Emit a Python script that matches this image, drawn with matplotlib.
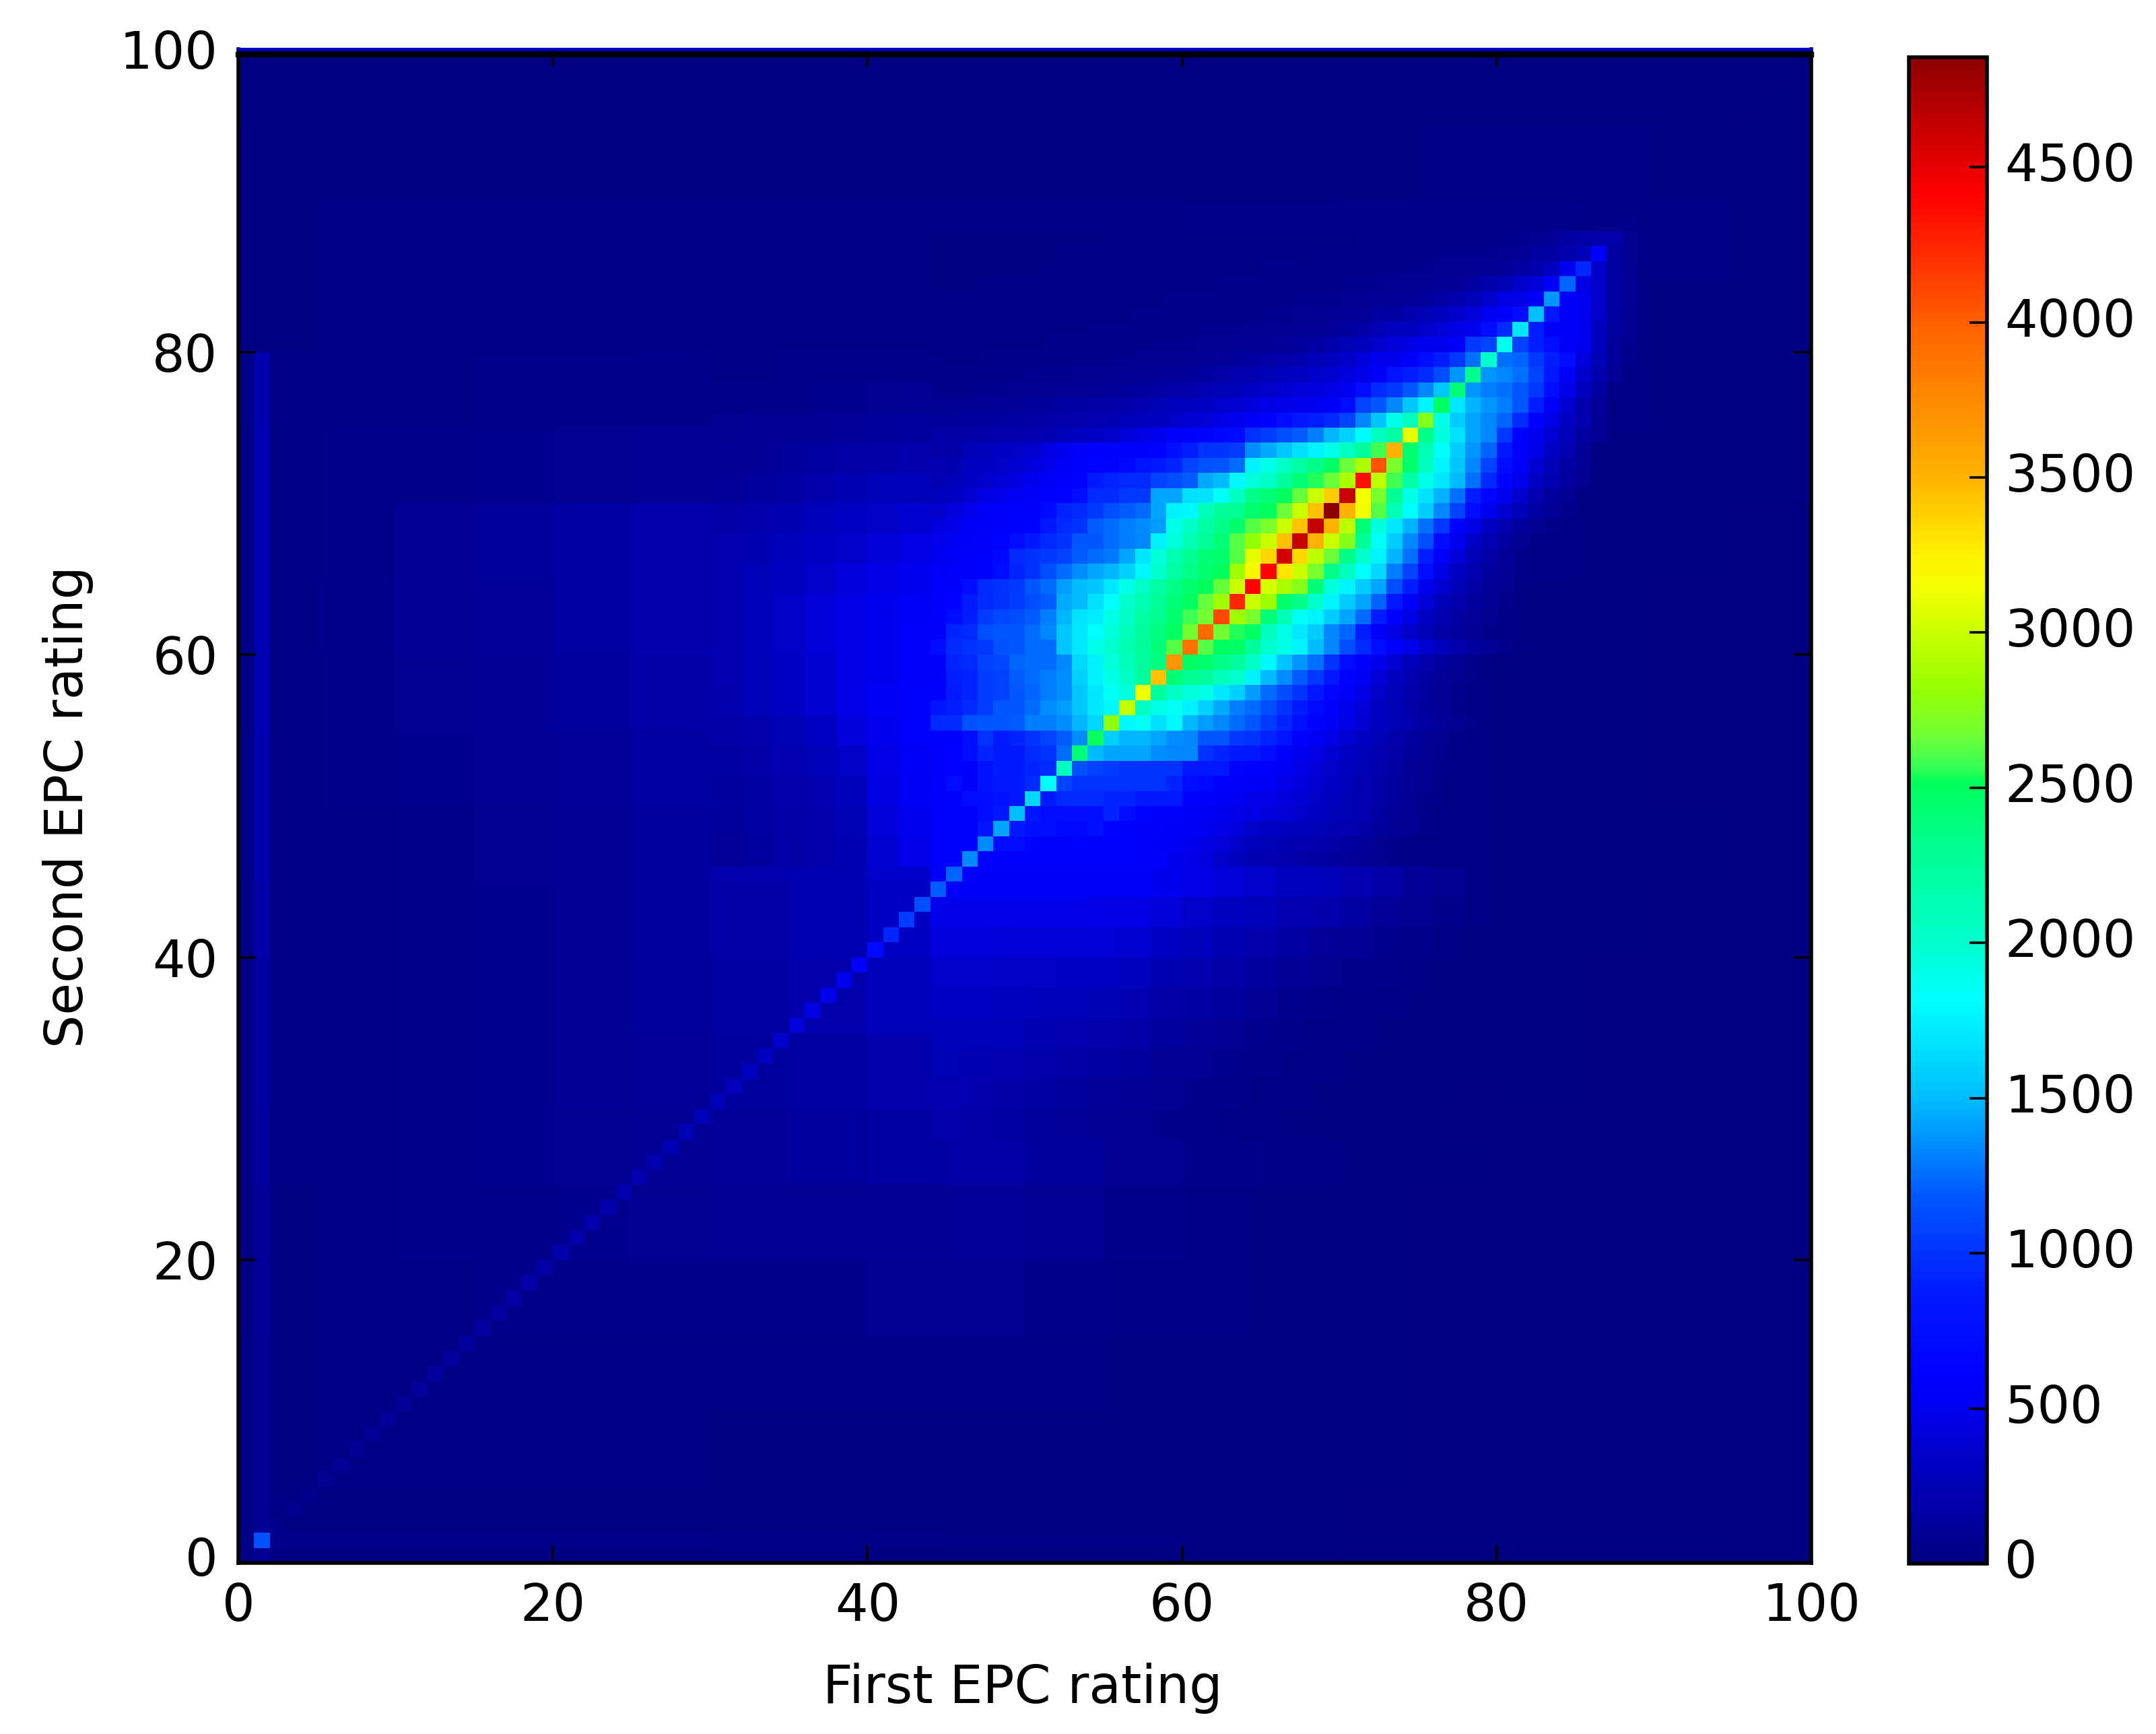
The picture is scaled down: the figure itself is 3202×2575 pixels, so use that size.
#!/usr/bin/env python3
"""EPC rating pairs: 2D histogram of first rating against second rating."""
import matplotlib
import matplotlib.pyplot as plt
import numpy as np
from matplotlib.colors import LinearSegmentedColormap
from matplotlib.transforms import ScaledTranslation

matplotlib.use("Agg")

# everything below is read off the picture, in tens of counts unless noted
# coarse background, 5 x 5 rating blocks, rows go from y=0 upwards
BG_Y00 = [2, 2, 2, 2, 2, 2, 2, 2, 1, 1, 1, 1, 1, 1, 0, 0, 0, 0, 0, 0]
BG_Y05 = [2, 3, 3, 3, 3, 3, 2, 2, 2, 2, 2, 2, 1, 1, 1, 0, 0, 0, 0, 0]
BG_Y10 = [2, 3, 3, 4, 4, 4, 4, 4, 3, 3, 3, 2, 2, 1, 1, 0, 0, 0, 0, 0]
BG_Y15 = [2, 3, 4, 5, 6, 6, 6, 6, 8, 8, 6, 4, 3, 2, 1, 0, 0, 0, 0, 0]
BG_Y20 = [2, 4, 5, 6, 7, 8, 9, 9, 10, 12, 9, 6, 4, 2, 1, 0, 0, 0, 0, 0]
BG_Y25 = [3, 4, 5, 7, 8, 10, 12, 14, 16, 17, 13, 8, 5, 3, 2, 1, 0, 0, 0, 0]
BG_Y30 = [3, 4, 5, 7, 10, 12, 14, 16, 20, 20, 14, 8, 5, 3, 2, 1, 1, 0, 0, 0]
BG_Y35 = [3, 4, 5, 7, 10, 13, 16, 20, 28, 30, 24, 14, 6, 4, 2, 1, 1, 0, 0, 0]
BG_Y40 = [3, 4, 5, 7, 10, 14, 18, 24, 32, 45, 40, 30, 18, 10, 6, 3, 1, 1, 0, 0]
BG_Y45 = [3, 4, 5, 8, 10, 14, 20, 24, 35, 55, 55, 55, 45, 32, 22, 3, 2, 1, 1, 0]
BG_Y50 = [3, 5, 7, 9, 12, 15, 18, 25, 35, 60, 60, 50, 30, 15, 8, 3, 1, 1, 0, 0]
BG_Y55 = [3, 5, 8, 11, 14, 18, 24, 35, 55, 80, 80, 50, 30, 15, 6, 3, 1, 1, 0, 0]
BG_Y60 = [3, 6, 10, 12, 15, 20, 28, 40, 55, 80, 80, 60, 30, 15, 6, 3, 2, 1, 0, 0]
BG_Y65 = [3, 5, 10, 13, 16, 20, 26, 35, 50, 60, 70, 60, 40, 20, 10, 5, 3, 2, 1, 0]
BG_Y70 = [3, 5, 6, 7, 8, 10, 15, 22, 30, 35, 40, 45, 40, 30, 15, 8, 3, 2, 1, 1]
BG_Y75 = [3, 4, 4, 5, 5, 6, 7, 8, 9, 10, 15, 25, 35, 40, 30, 20, 5, 3, 2, 1]
BG_Y80 = [2, 3, 3, 3, 3, 3, 4, 4, 4, 5, 7, 10, 15, 25, 35, 35, 12, 5, 2, 1]
BG_Y85 = [2, 3, 3, 3, 3, 3, 3, 3, 3, 3, 4, 4, 5, 5, 6, 6, 6, 4, 3, 2]
BG_Y90 = [2, 2, 2, 2, 2, 2, 2, 2, 2, 2, 2, 2, 2, 2, 2, 3, 3, 3, 2, 1]
BG_Y95 = [1, 1, 1, 1, 1, 1, 1, 1, 1, 1, 1, 1, 1, 1, 1, 1, 1, 1, 1, 1]
BACKGROUND = [BG_Y00, BG_Y05, BG_Y10, BG_Y15, BG_Y20, BG_Y25, BG_Y30, BG_Y35, BG_Y40, BG_Y45,
              BG_Y50, BG_Y55, BG_Y60, BG_Y65, BG_Y70, BG_Y75, BG_Y80, BG_Y85, BG_Y90, BG_Y95]

# faint stripes along x=1 and y=1, per 5 rating block
LEFT_STRIP = [10, 10, 10, 12, 12, 14, 15, 15, 18, 20, 20, 22, 22, 22, 22, 20, 2, 2, 2, 2]
BOTTOM_STRIP = [6, 6, 6, 5, 5, 5, 4, 4, 4, 3, 3, 3, 2, 2, 2, 1, 1, 1, 1, 0]

# left wing of the cloud, 2 x 2 blocks from x=30, y=46
LEFT_WING_X0, LEFT_WING_Y0 = 30, 46
LEFT_WING = [
    [12, 14, 17, 20, 24, 38, 48],
    [13, 15, 18, 20, 25, 40, 50],
    [14, 16, 19, 23, 28, 44, 52],
    [15, 18, 22, 26, 34, 46, 54],
    [18, 20, 25, 32, 42, 50, 60],
    [20, 26, 32, 38, 46, 52, 60],
    [21, 26, 32, 38, 45, 50, 58],
    [22, 28, 34, 40, 45, 50, 58],
    [22, 28, 34, 40, 45, 50, 55],
    [22, 26, 30, 36, 42, 46, 50],
    [22, 24, 28, 32, 36, 40, 45],
    [18, 20, 24, 28, 32, 34, 38],
    [12, 14, 16, 20, 24, 26, 28],
    [10, 11, 13, 15, 17, 18, 20],
    [8, 9, 10, 11, 12, 13, 14],
    [5, 6, 6, 7, 7, 8, 9],
    [4, 4, 5, 5, 5, 6, 6],
]

# lower wing, 2 x 2 blocks from x=44, y=28
LOWER_WING_X0, LOWER_WING_Y0 = 44, 28
LOWER_WING = [
    [19, 17, 15, 13, 12, 10, 8, 6, 5, 4, 3, 2, 2, 1, 1, 1, 0, 0],
    [22, 20, 18, 16, 14, 12, 10, 8, 6, 5, 4, 3, 2, 2, 1, 1, 1, 0],
    [25, 24, 22, 20, 18, 16, 14, 11, 9, 7, 5, 4, 3, 2, 2, 1, 1, 1],
    [28, 28, 26, 24, 22, 20, 18, 14, 12, 10, 7, 5, 4, 3, 2, 1, 1, 1],
    [32, 32, 30, 28, 26, 25, 22, 18, 16, 14, 10, 7, 5, 4, 3, 2, 1, 1],
    [36, 36, 34, 34, 32, 32, 30, 24, 20, 17, 14, 11, 8, 6, 5, 3, 2, 1],
    [42, 42, 40, 40, 40, 40, 38, 32, 28, 24, 20, 16, 12, 10, 7, 5, 3, 2],
    [48, 48, 48, 48, 48, 46, 45, 40, 35, 30, 26, 22, 20, 16, 12, 8, 5, 3],
    [55, 55, 55, 55, 55, 55, 55, 50, 45, 40, 35, 30, 28, 22, 18, 12, 8, 4],
]

# single rating cells around the lens, first value of each row is x=44
CORE_X0 = 44
CORE_Y0 = 46
CORE_ROWS = [
    [58, 60, 110, 60, 60, 60, 60, 60, 60, 60, 60, 60, 60, 60, 58, 50, 48, 42, 35, 28, 24, 22, 20, 18, 16, 14, 12, 10, 8, 6, 4, 3],
    [58, 60, 60, 115, 72, 72, 62, 60, 60, 62, 60, 60, 60, 60, 55, 52, 50, 45, 40, 35, 28, 26, 24, 22, 20, 18, 15, 12, 8, 6, 4, 3],
    [60, 60, 60, 80, 120, 85, 75, 72, 70, 68, 75, 62, 60, 60, 56, 55, 52, 50, 48, 42, 35, 32, 30, 28, 26, 24, 22, 18, 14, 10, 8, 5, 3],
    [60, 60, 60, 72, 85, 135, 80, 72, 72, 72, 72, 92, 72, 62, 60, 58, 55, 52, 50, 48, 45, 42, 40, 36, 32, 28, 25, 22, 16, 12, 9, 6, 4, 3],
    [60, 60, 72, 72, 78, 85, 150, 88, 95, 95, 95, 92, 92, 85, 85, 88, 60, 58, 55, 50, 48, 45, 42, 38, 35, 30, 26, 22, 18, 14, 10, 7, 5, 3],
    [60, 72, 60, 78, 85, 88, 95, 170, 108, 100, 100, 100, 100, 100, 100, 92, 72, 70, 60, 58, 55, 52, 48, 42, 38, 33, 28, 23, 18, 14, 11, 8, 5, 3],
    [60, 62, 60, 78, 88, 88, 92, 95, 180, 115, 108, 105, 100, 100, 100, 100, 85, 85, 85, 62, 60, 58, 52, 45, 40, 35, 30, 25, 20, 16, 12, 9, 6, 4, 3],
    [60, 62, 75, 92, 88, 88, 95, 100, 125, 200, 150, 143, 143, 143, 135, 133, 133, 100, 92, 88, 85, 72, 60, 50, 45, 38, 32, 28, 22, 18, 13, 10, 7, 4, 3],
    [60, 60, 72, 100, 88, 92, 100, 108, 120, 135, 230, 160, 148, 148, 143, 135, 133, 118, 118, 103, 100, 92, 80, 60, 52, 45, 38, 32, 26, 20, 15, 11, 8, 5, 3],
    [95, 95, 115, 118, 118, 120, 130, 130, 135, 148, 163, 270, 178, 185, 165, 178, 148, 140, 133, 125, 118, 105, 92, 75, 62, 52, 45, 38, 30, 25, 20, 15, 12, 8, 5, 3],
    [80, 90, 95, 105, 118, 118, 125, 135, 140, 155, 170, 178, 295, 205, 190, 185, 175, 160, 145, 130, 125, 113, 100, 88, 70, 58, 48, 40, 32, 25, 18, 13, 9, 6, 3],
    [60, 88, 92, 105, 108, 118, 123, 130, 135, 155, 170, 185, 195, 320, 225, 205, 195, 190, 170, 160, 140, 125, 113, 100, 85, 65, 55, 45, 35, 26, 20, 14, 10, 7, 4],
    [60, 90, 92, 105, 108, 120, 125, 130, 135, 160, 175, 190, 205, 225, 350, 240, 232, 225, 210, 200, 175, 150, 135, 120, 103, 85, 62, 52, 40, 30, 22, 16, 12, 8, 5, 3],
    [60, 92, 95, 108, 110, 123, 125, 125, 133, 163, 175, 195, 210, 225, 238, 370, 248, 245, 235, 225, 205, 178, 153, 138, 127, 100, 72, 58, 48, 38, 28, 20, 14, 10, 6, 3],
    [72, 95, 100, 103, 115, 118, 125, 125, 155, 170, 190, 200, 215, 225, 240, 262, 380, 262, 250, 248, 225, 200, 190, 176, 150, 133, 113, 95, 72, 58, 48, 38, 28, 20, 14, 10, 6, 3],
    [60, 92, 95, 113, 118, 118, 125, 133, 155, 170, 181, 195, 210, 225, 238, 250, 268, 385, 268, 255, 249, 207, 190, 170, 158, 133, 123, 90, 55, 45, 35, 26, 18, 14, 10, 6, 3],
    [60, 72, 90, 105, 110, 113, 120, 130, 148, 168, 172, 190, 205, 220, 232, 245, 258, 268, 405, 285, 270, 240, 213, 185, 176, 158, 143, 125, 90, 60, 45, 32, 22, 16, 12, 8, 4],
    [60, 62, 88, 95, 100, 105, 113, 120, 145, 150, 165, 181, 200, 215, 228, 240, 250, 265, 285, 420, 300, 285, 245, 235, 200, 176, 158, 143, 122, 85, 55, 40, 28, 20, 14, 10, 6, 3],
    [58, 60, 72, 95, 100, 103, 118, 125, 140, 150, 155, 170, 190, 205, 220, 235, 245, 252, 265, 300, 430, 305, 290, 275, 240, 195, 176, 158, 143, 113, 90, 50, 38, 26, 18, 12, 8, 4],
    [55, 58, 60, 60, 72, 92, 100, 113, 125, 135, 143, 148, 160, 178, 200, 220, 235, 245, 252, 285, 320, 430, 330, 300, 270, 235, 207, 181, 163, 130, 108, 72, 45, 32, 22, 14, 10, 5],
    [50, 54, 58, 60, 68, 95, 100, 103, 108, 120, 125, 128, 143, 170, 195, 215, 230, 240, 245, 262, 310, 335, 450, 335, 295, 266, 235, 200, 176, 147, 127, 90, 55, 40, 26, 18, 12, 6],
    [48, 52, 56, 58, 62, 72, 88, 95, 100, 118, 118, 125, 130, 133, 175, 195, 215, 228, 240, 262, 280, 300, 345, 460, 350, 300, 275, 228, 185, 158, 133, 113, 72, 50, 35, 22, 14, 8],
    [42, 48, 52, 55, 60, 60, 62, 85, 95, 100, 120, 125, 130, 135, 140, 190, 205, 220, 235, 245, 262, 270, 300, 345, 460, 350, 295, 240, 195, 170, 147, 127, 103, 60, 45, 32, 22, 14, 8, 5],
    [36, 42, 48, 52, 58, 60, 60, 70, 92, 95, 103, 113, 120, 125, 143, 175, 178, 210, 225, 230, 245, 252, 266, 300, 345, 485, 350, 315, 262, 213, 181, 158, 133, 108, 72, 50, 38, 26, 16, 10, 6],
    [28, 32, 38, 44, 48, 52, 56, 60, 62, 72, 95, 95, 103, 103, 143, 143, 165, 168, 185, 205, 235, 240, 250, 265, 300, 340, 460, 315, 270, 228, 190, 167, 147, 127, 90, 65, 50, 35, 22, 14, 8],
    [23, 27, 32, 36, 40, 44, 50, 55, 60, 62, 88, 92, 95, 95, 108, 113, 120, 145, 150, 178, 195, 205, 225, 240, 255, 266, 290, 420, 295, 258, 220, 190, 170, 150, 127, 95, 62, 48, 32, 22, 14, 8],
    [21, 24, 30, 32, 35, 38, 42, 48, 55, 60, 62, 62, 68, 80, 88, 92, 108, 115, 118, 125, 175, 190, 205, 220, 235, 248, 266, 290, 395, 270, 245, 207, 176, 155, 133, 108, 72, 55, 38, 26, 16, 10],
    [17, 18, 26, 28, 32, 34, 36, 44, 50, 58, 60, 60, 60, 60, 62, 75, 90, 100, 100, 105, 135, 145, 155, 165, 175, 190, 205, 225, 258, 350, 245, 213, 185, 158, 138, 123, 85, 60, 45, 32, 22, 12],
    [17, 17, 18, 18, 19, 19, 21, 24, 28, 30, 32, 36, 40, 45, 50, 58, 60, 62, 66, 70, 98, 105, 113, 120, 130, 148, 160, 180, 207, 220, 315, 235, 195, 167, 143, 133, 103, 60, 50, 38, 26, 15, 10],
    [13, 13, 14, 14, 15, 15, 17, 18, 19, 20, 22, 24, 26, 28, 30, 35, 38, 40, 45, 50, 55, 60, 72, 85, 90, 95, 108, 133, 153, 190, 207, 270, 190, 158, 143, 133, 123, 95, 60, 45, 32, 20, 10],
    [10, 10, 11, 11, 12, 12, 13, 14, 15, 16, 17, 18, 20, 22, 25, 28, 30, 32, 35, 38, 42, 45, 48, 50, 50, 55, 72, 108, 118, 133, 155, 176, 230, 170, 147, 138, 130, 118, 90, 55, 38, 20, 12],
    [6, 6, 7, 7, 7, 8, 8, 9, 9, 10, 11, 12, 13, 14, 16, 18, 20, 22, 25, 28, 32, 35, 38, 40, 42, 45, 50, 72, 95, 103, 118, 133, 155, 215, 138, 130, 127, 118, 103, 72, 48, 30, 15],
    [5, 5, 5, 6, 6, 6, 7, 7, 7, 8, 8, 9, 9, 10, 11, 12, 13, 15, 17, 20, 22, 25, 28, 32, 35, 38, 42, 48, 55, 80, 90, 95, 113, 138, 205, 138, 133, 127, 108, 85, 55, 35, 20, 10],
    [4, 4, 4, 5, 5, 5, 5, 5, 6, 6, 6, 7, 7, 8, 8, 9, 10, 11, 12, 13, 15, 17, 19, 21, 25, 30, 35, 42, 50, 50, 55, 72, 90, 103, 127, 195, 127, 123, 103, 90, 72, 42, 25, 12, 6, 3],
    [3, 3, 4, 4, 4, 4, 4, 5, 5, 5, 5, 6, 6, 6, 7, 7, 7, 8, 8, 9, 10, 11, 12, 14, 16, 20, 25, 30, 35, 40, 45, 50, 50, 55, 103, 108, 180, 108, 90, 72, 55, 50, 30, 12, 7, 3],
    [3, 3, 3, 3, 4, 4, 4, 4, 4, 4, 5, 5, 5, 5, 6, 6, 6, 7, 7, 7, 8, 8, 9, 10, 11, 12, 14, 18, 25, 30, 30, 35, 40, 45, 50, 72, 95, 170, 90, 55, 55, 50, 30, 15, 8, 3],
    [3, 3, 3, 3, 3, 3, 3, 3, 4, 4, 4, 4, 4, 5, 5, 5, 5, 6, 6, 6, 6, 7, 7, 8, 8, 9, 10, 12, 15, 15, 20, 25, 30, 35, 40, 50, 55, 72, 150, 85, 55, 50, 35, 15, 8, 3],
    [3, 3, 3, 3, 3, 3, 3, 3, 3, 3, 4, 4, 4, 4, 4, 5, 5, 5, 5, 6, 6, 6, 6, 7, 7, 7, 8, 8, 10, 10, 12, 14, 18, 20, 25, 35, 45, 45, 55, 133, 55, 50, 35, 15, 10, 4],
    [2, 2, 2, 3, 3, 3, 3, 3, 3, 3, 3, 3, 4, 4, 4, 4, 4, 4, 5, 5, 5, 5, 5, 6, 6, 6, 7, 7, 7, 8, 8, 8, 10, 12, 15, 20, 25, 35, 40, 55, 118, 45, 35, 15, 10, 4],
    [2, 2, 2, 2, 2, 2, 2, 3, 3, 3, 3, 3, 3, 3, 4, 4, 4, 4, 4, 4, 4, 5, 5, 5, 5, 5, 6, 6, 6, 6, 7, 7, 8, 8, 8, 10, 12, 15, 20, 30, 50, 90, 35, 15, 8, 4],
    [2, 2, 2, 2, 2, 2, 2, 2, 3, 3, 3, 3, 3, 3, 3, 4, 4, 4, 4, 4, 4, 4, 4, 4, 5, 5, 5, 5, 6, 6, 6, 6, 7, 7, 7, 7, 8, 10, 15, 16, 20, 25, 55, 15, 8, 5],
    [2, 2, 2, 2, 2, 2, 2, 2, 2, 2, 2, 3, 3, 3, 3, 3, 3, 3, 3, 3, 3, 3, 4, 4, 4, 4, 4, 5, 5, 5, 6, 6, 6, 6, 6, 6, 7, 7, 8, 12, 15, 18, 20, 20, 8, 5],
]

# diagonal cells, plain counts
DIAGONAL = [
    30, 1150, 60, 70, 75, 85, 90, 100, 110, 115,
    120, 125, 130, 135, 140, 150, 155, 165, 175, 180,
    190, 195, 200, 205, 215, 220, 230, 240, 250, 260,
    270, 285, 300, 320, 350, 400, 440, 470, 500, 600,
    700, 940, 1050, 1130, 1200, 1230, 1345, 1345, 1430, 1510,
    1630, 1810, 2080, 2400, 2530, 2780, 2980, 3145, 3450, 3680,
    3900, 3950, 4100, 4250, 4400, 4400, 4570, 4630, 4630, 4850,
    4630, 4350, 4050, 3500, 3100, 2750, 2500, 2400, 2340, 2000,
    1870, 1690, 1510, 1380, 1230, 940, 600, 200, 60, 30,
    20, 15, 10, 10, 5, 5, 5, 5, 5, 5,
]

# the colour scale as it reads on the reference colorbar (a bit off plain jet)
CMAP_VALUES = [0, 170, 360, 500, 595, 875, 1000, 1190, 1345, 1510, 1690, 1810,
               2000, 2335, 2520, 2560, 2675, 2830, 3145, 3250, 3505, 3975, 4414, 4854]
CMAP_COLORS = [(0, 0, .5), (0, 0, .65), (0, 0, .8), (0, 0, .95), (0, 0, 1), (0, .1, 1),
               (0, .2, 1), (0, .35, 1), (0, .55, 1), (0, .75, 1), (0, .9, 1), (0, 1, 1),
               (0, 1, .8), (0, 1, .55), (0, 1, .35), (.2, 1, .35), (.45, 1, .2), (.6, 1, 0),
               (.95, 1, 0), (1, .95, 0), (1, .7, 0), (1, .4, 0), (1, 0, 0), (.55, 0, 0)]

AXIS_TICKS = [0, 20, 40, 60, 80, 100]
CBAR_TICKS = [0, 500, 1000, 1500, 2000, 2500, 3000, 3500, 4000, 4500]
X_LABEL = "First EPC rating"
Y_LABEL = "Second EPC rating"

W, H = 3202, 2575
TICK_FONT = 55
LABEL_FONT = 56
SPINE = 4.0

counts = np.repeat(np.repeat(np.array(BACKGROUND, dtype=float), 5, axis=0), 5, axis=1) * 10
counts[:, 1] = np.repeat(LEFT_STRIP, 5) * 10
counts[1, 2:] = np.repeat(BOTTOM_STRIP, 5)[2:] * 10
for wing, x0, y0 in [(LEFT_WING, LEFT_WING_X0, LEFT_WING_Y0), (LOWER_WING, LOWER_WING_X0, LOWER_WING_Y0)]:
    block = np.repeat(np.repeat(np.array(wing, dtype=float), 2, axis=0), 2, axis=1) * 10
    counts[y0:y0 + block.shape[0], x0:x0 + block.shape[1]] = block
for j, row in enumerate(CORE_ROWS):
    counts[CORE_Y0 + j, CORE_X0:CORE_X0 + len(row)] = np.array(row) * 10
counts[np.arange(100), np.arange(100)] = DIAGONAL

vmax = CMAP_VALUES[-1]
cmap = LinearSegmentedColormap.from_list(
    "epc_jet", [(v / vmax, c) for v, c in zip(CMAP_VALUES, CMAP_COLORS)], N=512
)
edges = np.arange(101)

fig = plt.figure(figsize=(W / 100, H / 100), dpi=100)
ax = fig.add_axes([354 / W, 1 - 2321 / H, (2690 - 354) / W, (2321 - 73) / H])
mesh = ax.pcolormesh(edges, edges, counts, cmap=cmap, vmin=0, vmax=vmax, linewidth=0, antialiased=False)
ax.set_xlim(0, 100)
ax.set_ylim(0, 100)
ax.set_xticks(AXIS_TICKS)
ax.set_yticks(AXIS_TICKS)
ax.tick_params(direction="in", top=True, right=True, length=19, width=2.6, labelsize=TICK_FONT)
ax.tick_params(axis="x", pad=20)
ax.tick_params(axis="y", pad=22)
for side in ax.spines.values():
    side.set_linewidth(SPINE)
# the frame's top edge sits a little under the image top in the reference
ax.spines["top"].set_visible(False)
ax.axhline(100, color="#0000c8", lw=3, clip_on=False, zorder=5)
ax.axhline(99.65, color="black", lw=6, clip_on=False, zorder=6)
ax.set_xlabel(X_LABEL, fontsize=LABEL_FONT)
ax.set_ylabel(Y_LABEL, fontsize=LABEL_FONT)
ax.xaxis.set_label_coords(0.4985, -0.066, transform=ax.transAxes)
ax.yaxis.set_label_coords(-0.092, 0.4995, transform=ax.transAxes)

cax = fig.add_axes([2835 / W, 1 - 2322 / H, (2951 - 2835) / W, (2322 - 85) / H])
cbar = fig.colorbar(mesh, cax=cax, ticks=CBAR_TICKS)
cbar.ax.tick_params(direction="in", length=19, width=2.6, labelsize=TICK_FONT, pad=19)
cbar.outline.set_linewidth(SPINE)

# tick labels sit slightly above their ticks in the reference
for label in cbar.ax.get_yticklabels():
    label.set_transform(label.get_transform() + ScaledTranslation(0, 0.08, fig.dpi_scale_trans))
ax.get_yticklabels()[0].set_transform(
    ax.get_yticklabels()[0].get_transform() + ScaledTranslation(0, 0.1, fig.dpi_scale_trans)
)

fig.savefig("out.png", dpi=100)
plt.close(fig)
